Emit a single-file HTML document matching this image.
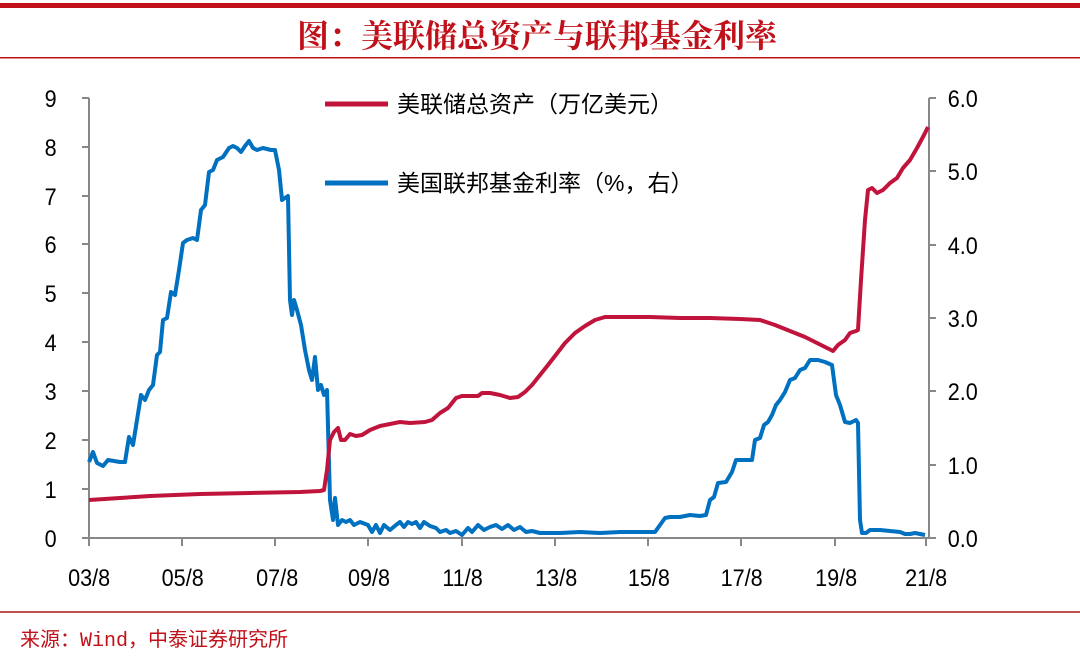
<!DOCTYPE html>
<html><head><meta charset="utf-8"><style>
body{margin:0;background:#fff;}
svg{display:block;}
</style></head><body>
<svg width="1080" height="672" viewBox="0 0 1080 672" xmlns="http://www.w3.org/2000/svg" font-family="Liberation Sans, Noto Sans CJK SC, sans-serif">
<rect x="0" y="0" width="1080" height="672" fill="#fff"/>
<rect x="0" y="3" width="1080" height="5" fill="#c0101a"/>
<text x="537" y="47" text-anchor="middle" font-size="32" font-weight="bold" fill="#c0101a" font-family="Noto Serif CJK SC, Noto Sans CJK SC, serif">图：美联储总资产与联邦基金利率</text>
<rect x="0" y="57" width="1080" height="1.5" fill="#c0101a"/>
<g stroke="#888" stroke-width="2" fill="none">
<line x1="89" y1="98" x2="89" y2="538"/>
<line x1="929" y1="98" x2="929" y2="538"/>
<line x1="82" y1="538" x2="936" y2="538"/>
<path d="M82 98H89M82 147H89M82 196H89M82 244H89M82 293H89M82 342H89M82 391H89M82 440H89M82 489H89"/>
<path d="M929 98H936M929 171H936M929 245H936M929 318H936M929 391H936M929 465H936"/>
<path d="M89 538V546M182 538V546M275 538V546M368 538V546M462 538V546M555 538V546M648 538V546M741 538V546M835 538V546M926 538V546"/>
</g>
<g font-size="24" fill="#000" text-anchor="end" transform="scale(0.9,1)">
<text x="63" y="107">9</text><text x="63" y="156">8</text><text x="63" y="205">7</text><text x="63" y="253">6</text><text x="63" y="302">5</text><text x="63" y="351">4</text><text x="63" y="400">3</text><text x="63" y="449">2</text><text x="63" y="498">1</text><text x="63" y="547">0</text>
</g>
<g font-size="24" fill="#000" transform="scale(0.9,1)">
<text x="1053" y="107">6.0</text><text x="1053" y="180">5.0</text><text x="1053" y="254">4.0</text><text x="1053" y="327">3.0</text><text x="1053" y="400">2.0</text><text x="1053" y="474">1.0</text><text x="1053" y="547">0.0</text>
</g>
<g font-size="24" fill="#000" text-anchor="middle" transform="scale(0.9,1)">
<text x="99" y="586">03/8</text><text x="203" y="586">05/8</text><text x="308" y="586">07/8</text><text x="410" y="586">09/8</text><text x="514" y="586">11/8</text><text x="618" y="586">13/8</text><text x="721" y="586">15/8</text><text x="824" y="586">17/8</text><text x="929" y="586">19/8</text><text x="1029" y="586">21/8</text>
</g>
<line x1="325" y1="104" x2="388" y2="104" stroke="#c0143c" stroke-width="5"/>
<text x="397" y="112" font-size="23" fill="#000">美联储总资产（万亿美元）</text>
<line x1="325" y1="183" x2="388" y2="183" stroke="#0070c0" stroke-width="5"/>
<text x="397" y="191" font-size="23" fill="#000">美国联邦基金利率（%，右）</text>
<polyline fill="none" stroke="#0070c0" stroke-width="4" stroke-linejoin="round" points="89,462 93,452 97,463 103,466 108,460 120,462 125,462 129,437 133,445 137,420 141,395 145,400 149,390 153,385 157,355 160,352 163,320 167,318 171,292 175,295 179,270 183,243 187,240 193,238 197,240 201,210 205,205 209,172 213,170 217,160 223,157 229,148 233,146 237,148 241,152 245,146 249,141 253,148 257,150 263,148 271,150 275,150 279,170 282,200 285,198 288,196 290,300 292,315 294,300 297,310 301,325 305,350 309,370 312,380 315,357 318,390 321,385 324,395 327,390 330,500 333,520 335,498 338,525 342,520 346,522 350,520 354,525 360,522 368,525 372,532 376,525 380,533 384,525 390,530 396,525 400,522 404,527 408,522 412,524 416,522 420,528 424,522 430,526 436,528 440,532 446,530 450,533 456,531 462,535 468,528 472,532 478,525 484,530 490,527 496,525 502,529 508,525 514,530 520,527 526,532 532,531 540,533 560,533 580,532 600,533 620,532 640,532 655,532 660,525 665,518 670,517 680,517 690,515 700,516 706,515 710,500 714,497 718,483 726,482 732,472 736,460 742,460 752,460 755,440 760,438 764,425 768,422 772,415 776,405 780,400 785,392 790,380 795,378 800,370 805,368 810,360 818,360 825,362 832,365 836,395 840,405 845,422 850,423 856,420 858,423 860,520 862,533 866,533 870,530 880,530 890,531 900,532 905,534 910,534 915,533 920,534 925,535"/>
<polyline fill="none" stroke="#c0143c" stroke-width="4" stroke-linejoin="round" points="89,500 120,498 150,496 200,494 250,493 300,492 320,491 324,490 327,470 330,440 334,432 338,428 341,440 345,440 350,434 356,436 362,435 370,430 380,426 390,424 400,422 410,423 425,422 432,420 440,413 448,408 456,398 462,396 470,396 478,396 482,393 490,393 500,395 510,398 518,397 525,392 532,385 540,375 548,365 555,356 565,343 575,333 585,326 595,320 605,317 620,317 650,317 680,318 710,318 740,319 760,320 775,325 790,331 805,337 815,342 825,347 833,351 838,345 845,340 850,333 856,331 858,330 861,280 865,220 868,190 872,188 877,193 883,190 890,183 897,178 903,168 910,160 917,148 924,135 928,127"/>
<rect x="0" y="611" width="1080" height="2" fill="#c05050"/>
<text x="20" y="646" font-size="20" fill="#c0101a" font-family="Liberation Mono, Noto Sans CJK SC, monospace">来源：Wind，中泰证券研究所</text>
</svg>
</body></html>
